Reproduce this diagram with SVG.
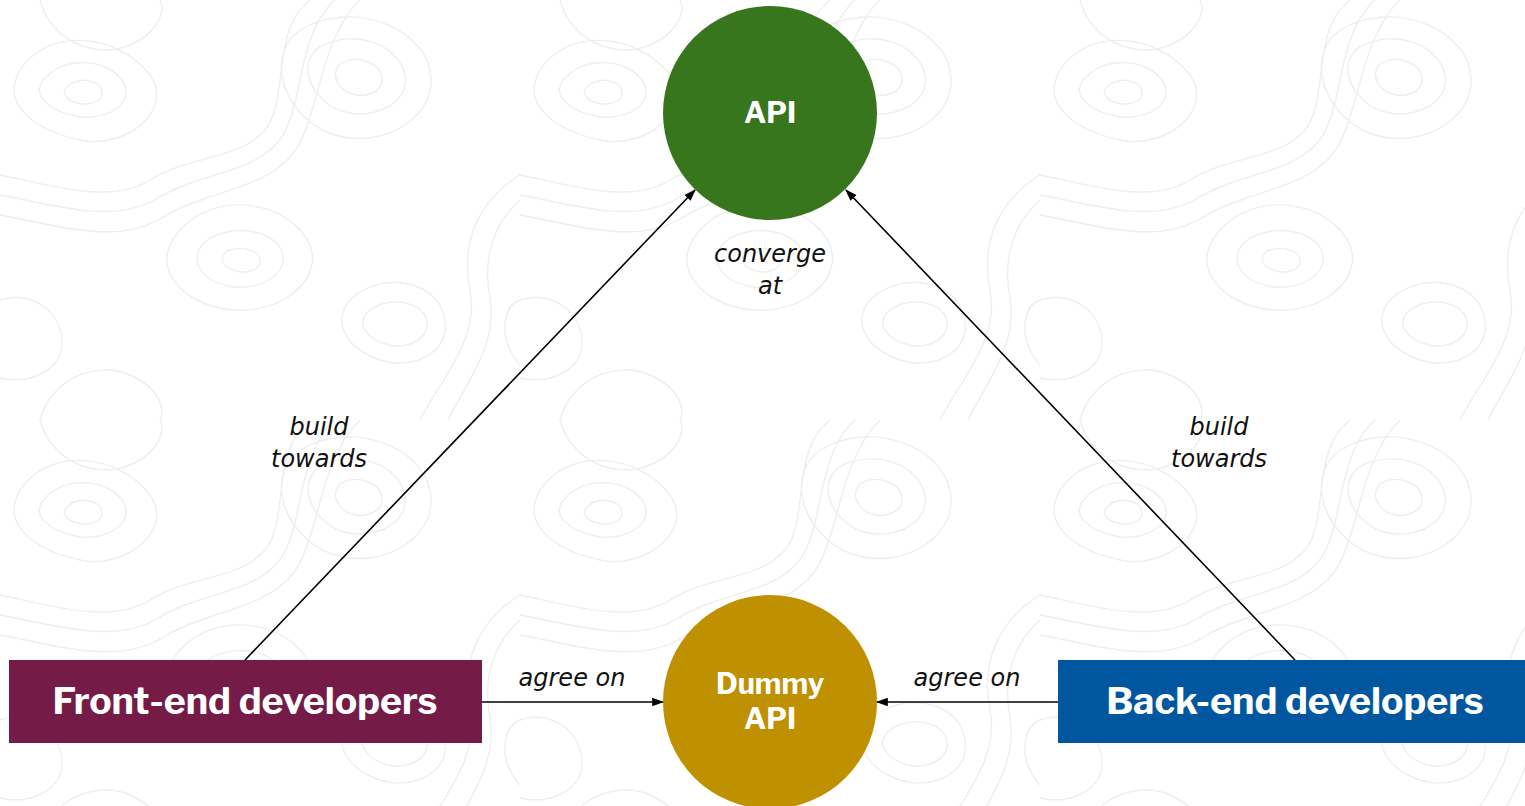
<svg xmlns="http://www.w3.org/2000/svg" width="1525" height="806" viewBox="0 0 1525 806">
  <defs>
    <style>
      .contour { fill: none; stroke: #eeeeee; stroke-width: 1.4; }
      .conn { fill: none; stroke: #000; stroke-width: 1.6; }
      .lbl { font-family: "DejaVu Sans", "Open Sans", sans-serif; font-style: italic; font-size: 24px; fill: #111; text-anchor: middle; }
      .node-text { font-family: "Libre Franklin", Lato, "Liberation Sans", sans-serif; font-weight: bold; fill: #fff; text-anchor: middle; }
    </style>
    <marker id="arrowL" viewBox="0 0 10 10" refX="9" refY="5" markerWidth="12" markerHeight="12" markerUnits="userSpaceOnUse" orient="auto">
      <path d="M0,1.5 L10,5 L0,8.5 Z" fill="#000"/>
    </marker>
    <pattern id="topo" x="0" y="0" width="520" height="420" patternUnits="userSpaceOnUse">
      <path class="contour" d="M20,70 C50,25 120,35 150,75 C175,110 125,150 80,140 C35,130 0,105 20,70 Z"/>
      <path class="contour" d="M45,78 C70,52 115,62 125,85 C133,107 100,122 75,116 C48,110 30,95 45,78 Z"/>
      <path class="contour" d="M68,86 C80,76 100,80 102,92 C104,102 88,106 78,103 C66,100 60,93 68,86 Z"/>
      <path class="contour" d="M300,30 C350,0 420,25 430,70 C440,115 385,150 335,135 C290,122 260,60 300,30 Z"/>
      <path class="contour" d="M318,48 C350,28 398,42 405,75 C410,102 375,120 345,112 C315,104 295,68 318,48 Z"/>
      <path class="contour" d="M340,64 C356,54 380,62 382,78 C384,92 365,98 352,94 C338,90 330,74 340,64 Z"/>
      <path class="contour" d="M180,230 C215,190 290,200 310,245 C325,285 270,320 220,308 C175,298 150,262 180,230 Z"/>
      <path class="contour" d="M205,242 C230,222 275,230 282,252 C290,276 255,292 228,286 C200,280 188,258 205,242 Z"/>
      <path class="contour" d="M226,252 C238,245 258,249 260,259 C262,270 246,274 236,271 C224,268 218,259 226,252 Z"/>
      <path class="contour" d="M0,175 C50,185 110,205 150,180 C190,155 240,160 265,130 C290,100 270,30 310,0"/>
      <path class="contour" d="M0,195 C55,205 115,225 158,198 C200,172 250,175 278,142 C305,110 295,35 335,0"/>
      <path class="contour" d="M0,215 C60,226 120,246 165,216 C210,190 262,190 292,155 C320,120 318,40 360,0"/>
      <path class="contour" d="M520,175 C480,200 460,240 470,290 C480,340 440,380 420,420"/>
      <path class="contour" d="M520,200 C495,222 482,255 490,298 C498,345 465,385 448,420"/>
      <path class="contour" d="M40,420 C50,380 95,360 130,375 C160,388 165,410 160,420"/>
      <path class="contour" d="M40,0 C50,40 95,60 130,45 C160,32 165,10 160,0"/>
      <path class="contour" d="M350,300 C380,270 440,280 445,320 C450,355 410,370 380,360 C350,350 330,325 350,300 Z"/>
      <path class="contour" d="M370,310 C390,295 425,302 427,322 C429,342 402,350 385,344 C365,338 355,322 370,310 Z"/>
      <path class="contour" d="M0,300 C30,290 60,310 62,340 C64,370 30,385 0,378"/>
      <path class="contour" d="M520,300 C505,305 500,330 510,350 C515,360 520,365 520,365"/>
    </pattern>
  </defs>

  <rect x="0" y="0" width="1525" height="806" fill="#ffffff"/>
  <rect x="0" y="0" width="1525" height="806" fill="url(#topo)"/>

  <g id="connectors">
    <line class="conn" x1="245" y1="660" x2="695" y2="190" marker-end="url(#arrowL)"/>
    <line class="conn" x1="1295" y1="660" x2="846" y2="190" marker-end="url(#arrowL)"/>
    <line class="conn" x1="482" y1="702" x2="663" y2="702" marker-end="url(#arrowL)"/>
    <line class="conn" x1="1058" y1="702" x2="877" y2="702" marker-end="url(#arrowL)"/>
    <text class="lbl" x="319" y="435">build</text>
    <text class="lbl" x="319" y="467">towards</text>
    <text class="lbl" x="1219" y="435">build</text>
    <text class="lbl" x="1219" y="467">towards</text>
    <text class="lbl" x="770" y="262">converge</text>
    <text class="lbl" x="770" y="294">at</text>
    <text class="lbl" x="572" y="686">agree on</text>
    <text class="lbl" x="967" y="686">agree on</text>
  </g>

  <g id="api">
    <circle cx="770" cy="113" r="107" fill="#38761d"/>
    <text class="node-text" x="770" y="123" font-size="29">API</text>
  </g>

  <g id="dummy-api">
    <circle cx="770" cy="702" r="107" fill="#bf9000"/>
    <text class="node-text" x="770" y="694" font-size="29">Dummy</text>
    <text class="node-text" x="770" y="729" font-size="29">API</text>
  </g>

  <g id="front-end">
    <rect x="9" y="660" width="473" height="83" fill="#741b47"/>
    <text class="node-text" x="245" y="714" font-size="37.5">Front-end developers</text>
  </g>

  <g id="back-end">
    <rect x="1058" y="660" width="467" height="83" fill="#0057a0"/>
    <text class="node-text" x="1295" y="714" font-size="37.5">Back-end developers</text>
  </g>
</svg>
